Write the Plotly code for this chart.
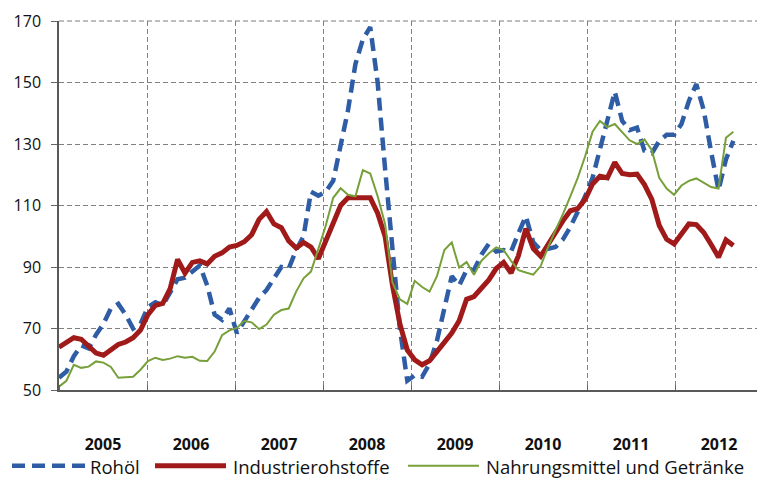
"""Rohstoffpreise 2005-2012 — Rohöl, Industrierohstoffe, Nahrungsmittel."""

import plotly.graph_objects as go

FONT = "Open Sans, DejaVu Sans, sans-serif"
BLUE = "#2F5DA5"
RED = "#A01A1A"
GREEN = "#77A03A"
GRID = "#7F7F7F"
GRID_DASH = "5px,3px"

JAHRE = ["2005", "2006", "2007", "2008", "2009", "2010", "2011", "2012"]
N_MONATE_ACHSE = 96  # Achse reicht bis Dez 2012, Daten bis Aug 2012
Y_TICKS = list(range(50, 171, 20))

# Monatswerte Jan 2005 .. Aug 2012
rohoel = [
    54, 56, 61, 64.5, 63.5, 68, 71.5, 76.5, 78, 74.5, 70, 71.5,
    77, 78.5, 77.5, 82, 86, 86.5, 88.5, 90.5, 84, 74.5, 72.8, 76.5,
    68.5, 72.5, 76.5, 80, 82.5, 86.5, 90, 89.5, 95.5, 100, 114.5, 113.2,
    114.5, 118, 129, 141, 156, 164, 168, 150, 122, 97, 70, 53,
    54.8, 54.3, 58.5, 66, 76, 87, 84, 89, 89, 94, 97.5, 95,
    95.5, 95, 101, 106.5, 98, 95.5, 95.9, 96.5, 99, 103, 108, 113,
    119, 128, 138, 147, 137.5, 134.5, 135.3, 127.8, 127, 131, 133, 133,
    136.5, 144, 149.5, 141, 127.5, 115, 125, 131,
]
industrie = [
    63.9, 65.5, 67, 66.5, 64, 62, 61.3, 63, 64.8, 65.6, 67, 69.5,
    74.5, 77.5, 78.2, 83, 92.5, 88, 91.5, 92, 91, 93.5, 94.6, 96.5,
    97, 98.2, 100.5, 105.5, 108, 104, 102.8, 98.5, 96.2, 98, 96.5, 92.7,
    98.5, 104.5, 110, 112.5, 112.5, 112.3, 112.5, 107.5, 100, 84, 71.5, 63,
    59.8, 58.2, 59.5, 62.5, 65.2, 68.5, 72.5, 79.5, 80.4, 83, 85.8, 89.5,
    91.5, 88, 93.7, 102.5, 96, 93.5, 97.5, 101, 105, 108.3, 109, 112,
    117, 119.5, 119, 124, 120.4, 120, 120.2, 116.8, 112, 103.5, 99, 97.5,
    101, 104, 103.8, 101.2, 97.3, 93.2, 98.8, 97,
]
nahrung = [
    51.1, 53, 58.2, 57.2, 57.6, 59.3, 58.9, 57.5, 54, 54.2, 54.3, 56.6,
    59.4, 60.5, 59.8, 60.2, 61, 60.5, 60.8, 59.5, 59.4, 62.5, 67.8, 69.4,
    70.2, 72.4, 72, 69.8, 71.3, 74.5, 76, 76.5, 82, 86.3, 88.5, 95.9,
    103.5, 112.5, 115.6, 113.5, 113, 121.5, 120.4, 113, 104, 85, 79.5, 78,
    85.5, 83.5, 82, 87, 95.5, 98, 89.8, 91.6, 87.5, 92, 94.4, 96.4,
    95.5, 92, 89, 88.2, 87.5, 90.3, 96.5, 102, 107.2, 113, 119, 126,
    134, 137.5, 135.5, 136.5, 133.8, 131.2, 130, 131.5, 128, 119, 115.5, 113.5,
    116.5, 118, 118.8, 117.5, 116, 115.5, 132, 134,
]

SERIEN = [
    ("Rohöl", rohoel, dict(color=BLUE, width=4.5, dash="13px,7px")),
    ("Industrierohstoffe", industrie, dict(color=RED, width=5)),
    ("Nahrungsmittel und Getränke", nahrung, dict(color=GREEN, width=2)),
]

# Seite hat 8px Body-Rand -> Figur entsprechend kleiner und verschoben
RAND = 8
W, H = 765 - RAND, 482 - RAND
L, R, T, B = 59 - RAND, 2, 15 - RAND, 92
PW, PH = W - L - R, H - T - B


def px_x(p):
    """Seitenpixel -> paper x."""
    return (p - RAND - L) / PW


def px_y(p):
    """Seitenpixel -> paper y."""
    return (T + PH - (p - RAND)) / PH


fig = go.Figure()
for name, werte, line in SERIEN:
    fig.add_trace(go.Scatter(
        x=list(range(len(werte))), y=werte, mode="lines", name=name,
        line=line, showlegend=False,
    ))

# Gitterlinien am oberen und rechten Rand (plotly lässt sie an den Enden weg)
gitter = dict(color=GRID, width=1.2, dash=GRID_DASH)
fig.add_shape(type="line", xref="paper", yref="paper", x0=0, x1=1, y0=1, y1=1,
              line=gitter, layer="below")
fig.add_shape(type="line", xref="paper", yref="paper", x0=1, x1=1, y0=0, y1=1,
              line=gitter, layer="below")

# ── eigene Legende (lange Liniensymbole wie im Original) ──
legende = [(12, 85, 88), (155, 226, 231), (408, 479, 484)]
for (x0, x1, xt), (name, _, line) in zip(legende, SERIEN):
    fig.add_shape(type="line", xref="paper", yref="paper",
                  x0=px_x(x0), x1=px_x(x1), y0=px_y(467), y1=px_y(467),
                  line=line)
    fig.add_annotation(text=name, xref="paper", yref="paper",
                       x=px_x(xt), y=px_y(468), xanchor="left", yanchor="middle",
                       showarrow=False, font=dict(size=18.5, color="#111"))

ende = N_MONATE_ACHSE - 1
jahr_breite = ende / len(JAHRE)
fig.update_layout(
    width=W, height=H,
    margin=dict(l=L, r=R, t=T, b=B),
    paper_bgcolor="white", plot_bgcolor="white",
    font=dict(family=FONT, size=14, color="#111"),
    showlegend=False,
    xaxis=dict(
        range=[0, ende],
        tickvals=[(i + 0.5) * jahr_breite for i in range(len(JAHRE))],
        ticktext=JAHRE,
        ticks="", showgrid=False, zeroline=False,
        ticklabelstandoff=39,
        tickfont=dict(size=16, color="#111", weight="bold"),
        showline=True, linecolor="#595959", linewidth=1.5,
        minor=dict(tick0=0, dtick=jahr_breite, ticks="inside", ticklen=5,
                   tickcolor="#666", showgrid=True, gridcolor=GRID,
                   griddash=GRID_DASH, gridwidth=1.2),
    ),
    yaxis=dict(
        range=[50, 170], tickvals=Y_TICKS,
        showgrid=True, gridcolor=GRID, griddash=GRID_DASH, gridwidth=1.2,
        zeroline=False,
        ticks="outside", ticklen=6, tickcolor="#666",
        ticklabelstandoff=7, ticklabeloverflow="allow",
        tickfont=dict(size=16, color="#111"),
        showline=True, linecolor="#595959", linewidth=1.5,
    ),
)

fig.write_html("out.html")
